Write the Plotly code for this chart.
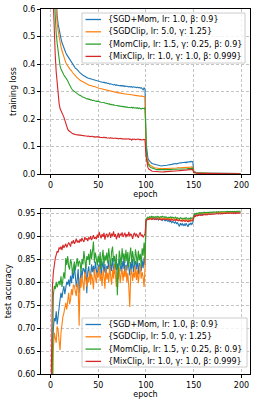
import plotly.graph_objects as go
from plotly.subplots import make_subplots

epochs = list(range(200))
names = ["{SGD+Mom, lr: 1.0, β: 0.9}", "{SGDClip, lr: 5.0, γ: 1.25}",
         "{MomClip, lr: 1.5, γ: 0.25, β: 0.9}", "{MixClip, lr: 1.0, γ: 1.0, β: 0.999}"]
colors = ["#1f77b4", "#ff7f0e", "#2ca02c", "#d62728"]

loss_sgdmom = [
    2.35, 1.65, 1.22, 0.98, 0.82, 0.70, 0.615, 0.575, 0.545, 0.522,
    0.505, 0.492, 0.478, 0.467, 0.457, 0.449, 0.441, 0.434, 0.428, 0.423,
    0.416, 0.411, 0.404, 0.400, 0.394, 0.391, 0.385, 0.383, 0.378, 0.374,
    0.371, 0.368, 0.364, 0.361, 0.359, 0.357, 0.354, 0.353, 0.351, 0.349,
    0.348, 0.346, 0.347, 0.344, 0.345, 0.342, 0.343, 0.340, 0.341, 0.338,
    0.339, 0.336, 0.337, 0.334, 0.335, 0.333, 0.334, 0.331, 0.332, 0.330,
    0.329, 0.330, 0.327, 0.328, 0.326, 0.327, 0.324, 0.326, 0.323, 0.324,
    0.322, 0.323, 0.321, 0.322, 0.320, 0.322, 0.319, 0.321, 0.318, 0.320,
    0.318, 0.319, 0.317, 0.318, 0.316, 0.318, 0.315, 0.317, 0.315, 0.316,
    0.314, 0.316, 0.313, 0.315, 0.312, 0.314, 0.311, 0.306, 0.313, 0.309,
    0.115, 0.072, 0.057, 0.050, 0.045, 0.042, 0.039, 0.037, 0.036, 0.034,
    0.033, 0.032, 0.031, 0.031, 0.030, 0.030, 0.029, 0.030, 0.030, 0.031,
    0.031, 0.032, 0.032, 0.033, 0.033, 0.034, 0.035, 0.035, 0.036, 0.037,
    0.037, 0.038, 0.037, 0.039, 0.039, 0.040, 0.041, 0.040, 0.042, 0.041,
    0.042, 0.043, 0.041, 0.044, 0.043, 0.045, 0.043, 0.046, 0.044, 0.045,
    0.0100, 0.0072, 0.0062, 0.0055, 0.0050, 0.0046, 0.0043, 0.0041, 0.0039, 0.0037,
    0.0035, 0.0034, 0.0033, 0.0032, 0.0031, 0.0030, 0.0029, 0.0029, 0.0028, 0.0027,
    0.0027, 0.0026, 0.0026, 0.0025, 0.0025, 0.0024, 0.0024, 0.0023, 0.0023, 0.0022,
    0.0022, 0.0022, 0.0021, 0.0021, 0.0021, 0.0020, 0.0020, 0.0020, 0.0019, 0.0019,
    0.0019, 0.0019, 0.0018, 0.0018, 0.0018, 0.0018, 0.0017, 0.0017, 0.0017, 0.0017,
]

loss_sgdclip = [
    2.25, 1.55, 1.12, 0.88, 0.74, 0.64, 0.585, 0.55, 0.52, 0.497,
    0.478, 0.462, 0.449, 0.436, 0.425, 0.416, 0.405, 0.398, 0.391, 0.386,
    0.383, 0.378, 0.376, 0.369, 0.366, 0.361, 0.358, 0.353, 0.351, 0.347,
    0.344, 0.341, 0.339, 0.336, 0.333, 0.332, 0.330, 0.328, 0.327, 0.325,
    0.324, 0.322, 0.322, 0.320, 0.320, 0.318, 0.318, 0.316, 0.315, 0.314,
    0.313, 0.312, 0.311, 0.310, 0.309, 0.308, 0.307, 0.306, 0.306, 0.304,
    0.304, 0.303, 0.302, 0.302, 0.300, 0.300, 0.299, 0.298, 0.298, 0.296,
    0.296, 0.295, 0.295, 0.294, 0.294, 0.293, 0.292, 0.292, 0.291, 0.291,
    0.290, 0.290, 0.289, 0.289, 0.288, 0.288, 0.287, 0.287, 0.286, 0.286,
    0.285, 0.285, 0.284, 0.284, 0.283, 0.284, 0.282, 0.283, 0.281, 0.280,
    0.095, 0.058, 0.045, 0.038, 0.033, 0.030, 0.027, 0.025, 0.024, 0.023,
    0.022, 0.021, 0.021, 0.020, 0.020, 0.020, 0.019, 0.019, 0.020, 0.019,
    0.020, 0.020, 0.020, 0.021, 0.020, 0.021, 0.021, 0.021, 0.022, 0.021,
    0.022, 0.022, 0.022, 0.023, 0.022, 0.023, 0.023, 0.023, 0.024, 0.023,
    0.024, 0.024, 0.024, 0.025, 0.024, 0.025, 0.025, 0.025, 0.026, 0.025,
    0.0078, 0.0057, 0.0049, 0.0044, 0.0040, 0.0037, 0.0035, 0.0033, 0.0031, 0.0030,
    0.0029, 0.0028, 0.0027, 0.0026, 0.0025, 0.0025, 0.0024, 0.0023, 0.0023, 0.0022,
    0.0022, 0.0021, 0.0021, 0.0020, 0.0020, 0.0020, 0.0019, 0.0019, 0.0019, 0.0018,
    0.0018, 0.0018, 0.0017, 0.0017, 0.0017, 0.0017, 0.0016, 0.0016, 0.0016, 0.0016,
    0.0016, 0.0015, 0.0015, 0.0015, 0.0015, 0.0015, 0.0014, 0.0014, 0.0014, 0.0014,
]

loss_momclip = [
    2.10, 1.35, 0.95, 0.75, 0.64, 0.565, 0.51, 0.475, 0.44, 0.41,
    0.393, 0.382, 0.372, 0.366, 0.360, 0.355, 0.351, 0.346, 0.339, 0.331,
    0.322, 0.315, 0.311, 0.306, 0.303, 0.300, 0.298, 0.295, 0.292, 0.290,
    0.287, 0.286, 0.283, 0.282, 0.279, 0.279, 0.276, 0.276, 0.273, 0.274,
    0.271, 0.272, 0.269, 0.270, 0.267, 0.268, 0.266, 0.266, 0.264, 0.265,
    0.263, 0.263, 0.262, 0.261, 0.261, 0.259, 0.260, 0.258, 0.258, 0.256,
    0.256, 0.254, 0.255, 0.252, 0.253, 0.251, 0.252, 0.250, 0.250, 0.249,
    0.249, 0.247, 0.248, 0.246, 0.247, 0.245, 0.246, 0.244, 0.245, 0.243,
    0.244, 0.242, 0.243, 0.242, 0.241, 0.243, 0.240, 0.242, 0.240, 0.241,
    0.239, 0.241, 0.238, 0.240, 0.238, 0.236, 0.239, 0.237, 0.238, 0.241,
    0.085, 0.050, 0.038, 0.031, 0.027, 0.024, 0.022, 0.020, 0.019, 0.018,
    0.017, 0.016, 0.016, 0.015, 0.015, 0.015, 0.014, 0.015, 0.014, 0.015,
    0.015, 0.015, 0.015, 0.016, 0.015, 0.016, 0.016, 0.016, 0.017, 0.016,
    0.017, 0.017, 0.017, 0.017, 0.018, 0.017, 0.018, 0.018, 0.018, 0.019,
    0.018, 0.019, 0.019, 0.019, 0.020, 0.019, 0.020, 0.020, 0.020, 0.021,
    0.0065, 0.0048, 0.0041, 0.0037, 0.0034, 0.0031, 0.0029, 0.0028, 0.0026, 0.0025,
    0.0024, 0.0023, 0.0022, 0.0022, 0.0021, 0.0020, 0.0020, 0.0019, 0.0019, 0.0018,
    0.0018, 0.0018, 0.0017, 0.0017, 0.0017, 0.0016, 0.0016, 0.0016, 0.0015, 0.0015,
    0.0015, 0.0015, 0.0014, 0.0014, 0.0014, 0.0014, 0.0014, 0.0013, 0.0013, 0.0013,
    0.0013, 0.0013, 0.0013, 0.0012, 0.0012, 0.0012, 0.0012, 0.0012, 0.0012, 0.0012,
]

loss_mixclip = [
    1.90, 1.20, 0.82, 0.62, 0.50, 0.43, 0.37, 0.32, 0.285, 0.257,
    0.238, 0.228, 0.222, 0.215, 0.207, 0.196, 0.183, 0.171, 0.163, 0.158,
    0.155, 0.151, 0.149, 0.147, 0.146, 0.144, 0.145, 0.143, 0.142, 0.143,
    0.141, 0.142, 0.140, 0.141, 0.139, 0.140, 0.138, 0.139, 0.138, 0.137,
    0.138, 0.136, 0.137, 0.136, 0.137, 0.135, 0.136, 0.134, 0.135, 0.136,
    0.134, 0.135, 0.133, 0.134, 0.133, 0.132, 0.134, 0.132, 0.133, 0.131,
    0.132, 0.131, 0.130, 0.132, 0.130, 0.131, 0.129, 0.130, 0.131, 0.129,
    0.130, 0.128, 0.129, 0.130, 0.128, 0.129, 0.127, 0.129, 0.128, 0.127,
    0.128, 0.127, 0.128, 0.126, 0.127, 0.123, 0.127, 0.126, 0.127, 0.125,
    0.126, 0.125, 0.127, 0.125, 0.126, 0.124, 0.126, 0.125, 0.126, 0.124,
    0.065, 0.035, 0.024, 0.018, 0.015, 0.013, 0.011, 0.010, 0.0095, 0.009,
    0.0085, 0.008, 0.008, 0.0078, 0.0075, 0.0076, 0.0074, 0.0075, 0.0076, 0.0077,
    0.0078, 0.008, 0.0082, 0.0085, 0.0087, 0.009, 0.0092, 0.0095, 0.0098, 0.010,
    0.0105, 0.011, 0.0112, 0.0115, 0.012, 0.0122, 0.0125, 0.013, 0.0132, 0.0135,
    0.014, 0.0142, 0.0145, 0.015, 0.0152, 0.0155, 0.016, 0.0158, 0.0162, 0.0165,
    0.0048, 0.0036, 0.0031, 0.0028, 0.0026, 0.0024, 0.0023, 0.0022, 0.0021, 0.0020,
    0.0019, 0.0019, 0.0018, 0.0018, 0.0017, 0.0017, 0.0016, 0.0016, 0.0016, 0.0015,
    0.0015, 0.0015, 0.0015, 0.0014, 0.0014, 0.0014, 0.0014, 0.0013, 0.0013, 0.0013,
    0.0013, 0.0013, 0.0012, 0.0012, 0.0012, 0.0012, 0.0012, 0.0012, 0.0011, 0.0011,
    0.0011, 0.0011, 0.0011, 0.0011, 0.0011, 0.0010, 0.0010, 0.0010, 0.0010, 0.0010,
]

acc_sgdmom = [
    0.20, 0.45, 0.66, 0.70, 0.722, 0.715, 0.737, 0.708, 0.731, 0.748,
    0.762, 0.777, 0.766, 0.781, 0.792, 0.774, 0.788, 0.801, 0.795, 0.806,
    0.791, 0.814, 0.798, 0.822, 0.808, 0.836, 0.815, 0.790, 0.806, 0.829,
    0.777, 0.814, 0.826, 0.809, 0.831, 0.828, 0.818, 0.840, 0.776, 0.822,
    0.835, 0.812, 0.814, 0.839, 0.822, 0.836, 0.817, 0.845, 0.826, 0.811,
    0.838, 0.824, 0.851, 0.815, 0.833, 0.846, 0.821, 0.840, 0.812, 0.836,
    0.829, 0.848, 0.818, 0.842, 0.825, 0.853, 0.831, 0.819, 0.845, 0.827,
    0.841, 0.816, 0.852, 0.834, 0.823, 0.847, 0.829, 0.855, 0.818, 0.838,
    0.826, 0.849, 0.832, 0.815, 0.844, 0.829, 0.851, 0.822, 0.839, 0.846,
    0.828, 0.853, 0.817, 0.842, 0.835, 0.824, 0.848, 0.831, 0.854, 0.838,
    0.936, 0.939, 0.941, 0.938, 0.940, 0.939, 0.941, 0.938, 0.940, 0.937,
    0.939, 0.938, 0.940, 0.936, 0.939, 0.937, 0.938, 0.935, 0.938, 0.936,
    0.934, 0.937, 0.935, 0.933, 0.936, 0.932, 0.934, 0.930, 0.933, 0.931,
    0.929, 0.932, 0.928, 0.930, 0.926, 0.922, 0.929, 0.925, 0.928, 0.924,
    0.927, 0.923, 0.929, 0.926, 0.921, 0.928, 0.925, 0.930, 0.926, 0.929,
    0.945, 0.947, 0.946, 0.948, 0.947, 0.948, 0.949, 0.948, 0.949, 0.948,
    0.949, 0.950, 0.949, 0.950, 0.949, 0.950, 0.951, 0.950, 0.950, 0.951,
    0.950, 0.951, 0.950, 0.951, 0.952, 0.951, 0.951, 0.952, 0.951, 0.952,
    0.951, 0.952, 0.952, 0.951, 0.952, 0.953, 0.952, 0.952, 0.953, 0.952,
    0.952, 0.953, 0.952, 0.953, 0.952, 0.953, 0.953, 0.952, 0.953, 0.953,
]

acc_sgdclip = [
    0.15, 0.35, 0.55, 0.655, 0.690, 0.682, 0.668, 0.704, 0.695, 0.672,
    0.652, 0.690, 0.711, 0.725, 0.733, 0.745, 0.755, 0.741, 0.768, 0.777,
    0.752, 0.763, 0.785, 0.772, 0.795, 0.792, 0.780, 0.770, 0.798, 0.785,
    0.705, 0.810, 0.788, 0.816, 0.797, 0.782, 0.823, 0.804, 0.790, 0.812,
    0.800, 0.825, 0.795, 0.818, 0.807, 0.785, 0.829, 0.812, 0.798, 0.822,
    0.810, 0.835, 0.803, 0.819, 0.792, 0.826, 0.814, 0.786, 0.831, 0.806,
    0.821, 0.799, 0.838, 0.812, 0.795, 0.827, 0.808, 0.840, 0.817, 0.790,
    0.822, 0.806, 0.833, 0.798, 0.818, 0.829, 0.803, 0.825, 0.811, 0.836,
    0.800, 0.821, 0.790, 0.746, 0.815, 0.829, 0.803, 0.822, 0.810, 0.835,
    0.805, 0.826, 0.798, 0.817, 0.839, 0.808, 0.822, 0.811, 0.790, 0.832,
    0.935, 0.938, 0.940, 0.939, 0.941, 0.940, 0.939, 0.941, 0.940, 0.942,
    0.940, 0.941, 0.939, 0.941, 0.940, 0.939, 0.941, 0.940, 0.939, 0.940,
    0.938, 0.940, 0.939, 0.938, 0.940, 0.937, 0.939, 0.938, 0.937, 0.939,
    0.937, 0.938, 0.936, 0.938, 0.935, 0.937, 0.936, 0.934, 0.937, 0.935,
    0.936, 0.934, 0.937, 0.935, 0.933, 0.936, 0.934, 0.937, 0.935, 0.936,
    0.946, 0.948, 0.949, 0.948, 0.950, 0.949, 0.950, 0.951, 0.950, 0.951,
    0.950, 0.951, 0.951, 0.950, 0.951, 0.952, 0.951, 0.951, 0.952, 0.951,
    0.952, 0.951, 0.952, 0.952, 0.951, 0.952, 0.953, 0.952, 0.952, 0.953,
    0.952, 0.953, 0.952, 0.953, 0.953, 0.952, 0.953, 0.953, 0.952, 0.953,
    0.953, 0.952, 0.953, 0.953, 0.954, 0.953, 0.953, 0.954, 0.953, 0.953,
]

acc_momclip = [
    0.30, 0.50, 0.66, 0.772, 0.792, 0.785, 0.801, 0.789, 0.797, 0.803,
    0.794, 0.813, 0.790, 0.805, 0.822, 0.808, 0.853, 0.838, 0.857, 0.835,
    0.828, 0.850, 0.842, 0.818, 0.832, 0.845, 0.826, 0.838, 0.853, 0.834,
    0.847, 0.843, 0.822, 0.851, 0.839, 0.868, 0.845, 0.829, 0.857, 0.849,
    0.862, 0.838, 0.872, 0.851, 0.868, 0.889, 0.843, 0.865, 0.852, 0.837,
    0.858, 0.842, 0.866, 0.829, 0.853, 0.871, 0.838, 0.859, 0.847, 0.865,
    0.841, 0.874, 0.852, 0.837, 0.867, 0.878, 0.845, 0.858, 0.832, 0.862,
    0.772, 0.848, 0.869, 0.855, 0.838, 0.874, 0.851, 0.863, 0.842, 0.871,
    0.846, 0.866, 0.833, 0.859, 0.876, 0.843, 0.868, 0.851, 0.838, 0.872,
    0.855, 0.841, 0.869, 0.848, 0.862, 0.836, 0.874, 0.858, 0.887, 0.852,
    0.938, 0.941, 0.942, 0.941, 0.943, 0.942, 0.944, 0.942, 0.943, 0.941,
    0.943, 0.942, 0.944, 0.943, 0.941, 0.943, 0.942, 0.944, 0.942, 0.943,
    0.941, 0.943, 0.942, 0.940, 0.942, 0.941, 0.943, 0.940, 0.942, 0.941,
    0.940, 0.942, 0.939, 0.941, 0.940, 0.938, 0.941, 0.939, 0.940, 0.938,
    0.940, 0.938, 0.941, 0.939, 0.937, 0.940, 0.938, 0.941, 0.939, 0.940,
    0.948, 0.950, 0.949, 0.951, 0.950, 0.951, 0.952, 0.951, 0.952, 0.951,
    0.952, 0.953, 0.952, 0.952, 0.953, 0.952, 0.953, 0.953, 0.952, 0.953,
    0.953, 0.954, 0.953, 0.953, 0.954, 0.953, 0.954, 0.953, 0.954, 0.954,
    0.953, 0.954, 0.954, 0.953, 0.954, 0.955, 0.954, 0.954, 0.955, 0.954,
    0.954, 0.955, 0.954, 0.955, 0.954, 0.955, 0.955, 0.954, 0.955, 0.955,
]

acc_mixclip = [
    0.45, 0.72, 0.79, 0.822, 0.842, 0.852, 0.860, 0.868, 0.865, 0.876,
    0.872, 0.878, 0.870, 0.882, 0.875, 0.879, 0.884, 0.876, 0.881, 0.887,
    0.883, 0.878, 0.889, 0.885, 0.892, 0.884, 0.888, 0.895, 0.887, 0.891,
    0.886, 0.894, 0.889, 0.897, 0.891, 0.888, 0.899, 0.893, 0.896, 0.890,
    0.898, 0.894, 0.901, 0.892, 0.897, 0.903, 0.895, 0.899, 0.894, 0.904,
    0.897, 0.910, 0.902, 0.896, 0.905, 0.899, 0.908, 0.893, 0.903, 0.906,
    0.898, 0.904, 0.909, 0.897, 0.906, 0.901, 0.911, 0.899, 0.905, 0.894,
    0.903, 0.908, 0.897, 0.906, 0.902, 0.909, 0.899, 0.904, 0.908, 0.898,
    0.905, 0.901, 0.910, 0.900, 0.906, 0.903, 0.895, 0.904, 0.908, 0.900,
    0.906, 0.902, 0.897, 0.905, 0.909, 0.901, 0.904, 0.898, 0.902, 0.906,
    0.934, 0.937, 0.938, 0.937, 0.939, 0.938, 0.937, 0.939, 0.938, 0.937,
    0.938, 0.937, 0.939, 0.938, 0.937, 0.938, 0.936, 0.938, 0.937, 0.938,
    0.937, 0.936, 0.938, 0.937, 0.936, 0.937, 0.935, 0.937, 0.936, 0.935,
    0.936, 0.935, 0.937, 0.935, 0.934, 0.936, 0.934, 0.935, 0.933, 0.935,
    0.934, 0.933, 0.935, 0.934, 0.932, 0.934, 0.933, 0.935, 0.934, 0.935,
    0.943, 0.945, 0.944, 0.946, 0.945, 0.946, 0.947, 0.946, 0.947, 0.946,
    0.947, 0.948, 0.947, 0.948, 0.947, 0.948, 0.949, 0.948, 0.948, 0.949,
    0.948, 0.949, 0.948, 0.949, 0.950, 0.949, 0.949, 0.950, 0.949, 0.950,
    0.949, 0.950, 0.950, 0.949, 0.950, 0.951, 0.950, 0.950, 0.951, 0.950,
    0.950, 0.951, 0.950, 0.951, 0.950, 0.951, 0.951, 0.950, 0.951, 0.951,
]

loss_series = [loss_sgdmom, loss_sgdclip, loss_momclip, loss_mixclip]
acc_series = [acc_sgdmom, acc_sgdclip, acc_momclip, acc_mixclip]

x_ticks = [0, 50, 100, 150, 200]
loss_ticks = [0.0, 0.1, 0.2, 0.3, 0.4, 0.5, 0.6]
acc_ticks = [0.60, 0.65, 0.70, 0.75, 0.80, 0.85, 0.90, 0.95]

FONT = "DejaVu Sans"
W, H = 258, 404
ML, MR, MT, MB = 41, 8, 9, 30
PW, PH = W - ML - MR, H - MT - MB


def px_x(px):
    return (px - ML) / PW


def px_y(py):
    return (H - MB - py) / PH


fig = make_subplots(rows=2, cols=1, vertical_spacing=0.09)

for name, col, ys in zip(names, colors, loss_series):
    fig.add_trace(go.Scatter(x=epochs, y=ys, mode="lines", name=name,
                             line=dict(color=col, width=1.1), showlegend=False),
                  row=1, col=1)
for name, col, ys in zip(names, colors, acc_series):
    fig.add_trace(go.Scatter(x=epochs, y=ys, mode="lines", name=name,
                             line=dict(color=col, width=1.1), showlegend=False),
                  row=2, col=1)

axis_common = dict(
    showline=True, mirror=True, linecolor="black", linewidth=1,
    ticks="outside", ticklen=3, tickwidth=1, tickcolor="black",
    showgrid=True, gridcolor="#c4c4c4", gridwidth=0.8, griddash="3px,2px",
    zeroline=False, automargin=False,
    tickfont=dict(size=8, family=FONT, color="black"),
)
title_font = dict(size=8, family=FONT, color="black")

fig.update_xaxes(**axis_common, range=[-9.95, 208.95], tickvals=x_ticks,
                 title=dict(text="epoch", font=title_font, standoff=1))
fig.update_yaxes(**axis_common)
fig.update_yaxes(range=[0, 0.6], tickvals=loss_ticks, tickformat=".1f",
                 title=dict(text="training loss", font=title_font, standoff=4),
                 domain=[px_y(174), 1.0], row=1, col=1)
fig.update_yaxes(range=[0.6, 0.961], tickvals=acc_ticks, tickformat=".2f",
                 title=dict(text="test accuracy", font=title_font, standoff=4),
                 domain=[0.0, px_y(208.5)], row=2, col=1)

# legend boxes (drawn as decorations in pixel-derived paper coordinates)
shapes = []
annotations = []
legend_boxes = [
    (82, 245, 13, 63, [19.5, 31.8, 44.1, 56.4]),
    (82, 247, 318, 367, [324.5, 336.8, 349.1, 361.4]),
]
for (x0, x1, y0, y1, rows) in legend_boxes:
    shapes.append(dict(type="rect", xref="paper", yref="paper",
                       x0=px_x(x0), x1=px_x(x1), y0=px_y(y1), y1=px_y(y0),
                       fillcolor="rgba(255,255,255,0.8)",
                       line=dict(color="#cccccc", width=1), layer="above"))
    for name, col, ry in zip(names, colors, rows):
        shapes.append(dict(type="line", xref="paper", yref="paper",
                           x0=px_x(x0 + 3.5), x1=px_x(x0 + 19), y0=px_y(ry), y1=px_y(ry),
                           line=dict(color=col, width=1.3), layer="above"))
        annotations.append(dict(text=name, xref="paper", yref="paper",
                                x=px_x(x0 + 25), y=px_y(ry), xanchor="left", yanchor="middle",
                                showarrow=False, borderpad=0,
                                font=dict(size=8, family=FONT, color="black")))

fig.update_layout(
    width=W, height=H,
    margin=dict(l=ML, r=MR, t=MT, b=MB),
    paper_bgcolor="white", plot_bgcolor="white",
    font=dict(family=FONT, size=8, color="black"),
    showlegend=False,
    shapes=shapes, annotations=annotations,
)

fig.write_html("out.html", config={"displayModeBar": False},
               post_script="document.body.style.margin='0';document.body.style.overflow='hidden';")
